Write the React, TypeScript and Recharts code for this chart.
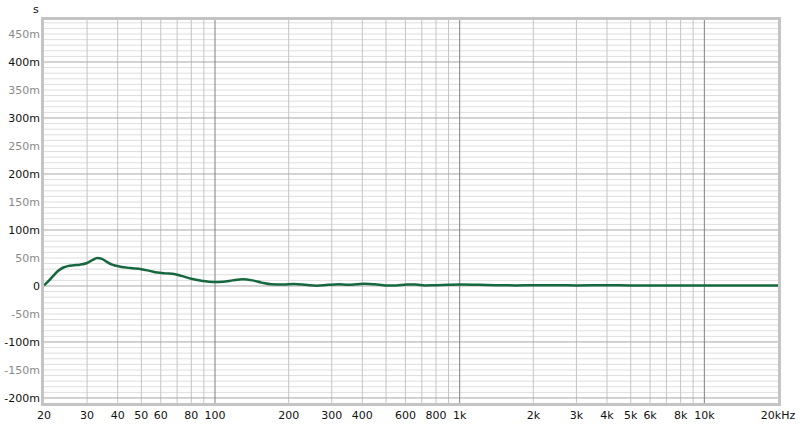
import { CartesianGrid, Line, LineChart, ReferenceLine, XAxis, YAxis } from "recharts";

// group delay, frequency in Hz, delay in ms
const freqs = [
  20, 21, 22, 23, 24, 25, 26.5, 28, 30, 31.5, 33, 34.5, 36, 38, 41, 45, 50, 54, 58, 63, 68, 73, 80, 88,
  98, 108, 118, 130, 142, 155, 170, 190, 210, 235, 260, 290, 320, 350, 380, 410, 450, 500, 550, 610,
  660, 720, 800, 900, 1000, 1200, 1400, 1700, 2000, 2500, 3000, 4000, 5000, 6500, 8000, 10000, 13000,
  16000, 20000,
];
const delays = [
  1, 10, 20, 28, 33, 35.5, 37, 38, 41, 46, 50, 48.5, 43.5, 38, 34.5, 32, 30, 27, 24, 22.5, 21.5, 18, 13,
  9.5, 7, 7.5, 10, 12, 10, 6, 3, 2.5, 3.5, 2, 0.5, 2, 3, 2, 3, 4, 3, 1, 1, 2.5, 2.5, 1, 1.5, 2, 2.5,
  2, 1.5, 1, 1.5, 1.5, 1, 1.2, 1, 1, 1, 1, 1, 1, 1,
];

const xTicks = [20, 30, 40, 50, 60, 80, 100, 200, 300, 400, 600, 800, 1000, 2000, 3000, 4000, 5000, 6000, 8000, 10000, 20000];
const yTicks = [-200, -150, -100, -50, 0, 50, 100, 150, 200, 250, 300, 350, 400, 450];
const xMinorLines = [
  30, 40, 50, 60, 70, 80, 90, 200, 300, 400, 500, 600, 700, 800, 900, 2000, 3000, 4000, 5000, 6000,
  7000, 8000, 9000,
];
const xMajorLines = [100, 1000, 10000];

const yMinorLines = Array.from({ length: 68 }, (_, i) => -200 + i * 10).filter((v) => v % 100 !== 0);
const yMajorLines = [-200, -100, 0, 100, 200, 300, 400];

const rows = freqs.map((f, i) => ({ f, d: delays[i] }));

const FONT = "DejaVu Sans, Verdana, sans-serif";

function fmtX(v: number) {
  if (v === 20000) return "20kHz";
  if (v >= 1000) return `${v / 1000}k`;
  return String(v);
}

function YTick(props: any) {
  const { x, y, payload } = props;
  const v = payload.value as number;
  const major = v % 100 === 0;
  return (
    <text x={x} y={y} dy="0.36em" textAnchor="end" fontSize={11} fontFamily={FONT} fill={major ? "#111" : "#8a8a8a"}>
      {v === 0 ? "0" : `${v}m`}
    </text>
  );
}

export default function App() {
  return (
    <div style={{ position: "fixed", left: 0, top: 0, width: 800, height: 430, background: "#fff" }}>
      <LineChart width={800} height={430} data={rows} margin={{ top: 20, right: 22, bottom: 0, left: 0 }}>
        <CartesianGrid horizontal={false} vertical={false} />
        <XAxis
          dataKey="f"
          type="number"
          scale="log"
          domain={[20, 20000]}
          ticks={xTicks}
          tickFormatter={fmtX}
          allowDataOverflow
          axisLine={false}
          tickLine={false}
          tickSize={0}
          tickMargin={8}
          height={27}
          interval={0}
          tick={{ fontSize: 11, fontFamily: FONT, fill: "#111" }}
        />
        <YAxis
          type="number"
          domain={[-209, 475]}
          ticks={yTicks}
          allowDataOverflow
          axisLine={false}
          tickLine={false}
          tickSize={0}
          tickMargin={4}
          width={44}
          interval={0}
          tick={<YTick />}
        />
        {yMinorLines.map((v) => (
          <ReferenceLine key={`ym${v}`} y={v} stroke="#dedede" strokeWidth={1} />
        ))}
        {xMinorLines.map((v) => (
          <ReferenceLine key={`xm${v}`} x={v} stroke="#c4c4c4" strokeWidth={1} />
        ))}
        {yMajorLines.map((v) => (
          <ReferenceLine key={`yM${v}`} y={v} stroke="#a8a8a8" strokeWidth={1} />
        ))}
        {xMajorLines.map((v) => (
          <ReferenceLine key={`xM${v}`} x={v} stroke="#808080" strokeWidth={1} />
        ))}
        <Line
          type="monotone"
          dataKey="d"
          stroke="#17683f"
          strokeWidth={2.5}
          dot={false}
          activeDot={false}
          isAnimationActive={false}
        />
      </LineChart>
      <div
        style={{
          position: "absolute",
          left: 41,
          top: 17,
          width: 740,
          height: 389,
          boxSizing: "border-box",
          border: "3px solid #c4c4c4",
          pointerEvents: "none",
        }}
      />
      <div style={{ position: "absolute", left: 33, top: 3, fontSize: 11, fontFamily: FONT, color: "#111" }}>s</div>
    </div>
  );
}
